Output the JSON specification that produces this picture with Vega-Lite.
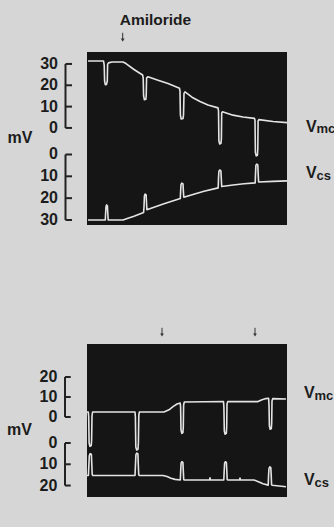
{
  "$schema": "https://vega.github.io/schema/vega-lite/v6.json",
  "autosize": {"type": "none"},
  "padding": {"left": 87, "top": 52, "right": 47, "bottom": 475},
  "background": "#d6d6d6",
  "bounds": "flush",
  "spacing": 119,
  "config": {
    "view": {"fill": "#151515", "stroke": null},
    "text": {"font": "Liberation Sans", "color": "#1c1c1c"}
  },
  "datasets": {
    "top_vmc": [
      {"t":0,"v":31.4},{"t":15.5,"v":31.4},{"t":16.2,"v":29.5},{"t":16.6,"v":22},{"t":17.3,"v":20.3},{"t":18.5,"v":20.4},{"t":19.3,"v":22},{"t":19.6,"v":29.8},{"t":20.5,"v":30.5},{"t":24,"v":30.9},{"t":35,"v":30.9},{"t":38,"v":30.2},{"t":46,"v":27.4},{"t":54.6,"v":24.8},
      {"t":55.2,"v":23.5},{"t":55.6,"v":15},{"t":56.4,"v":13.2},{"t":57.8,"v":13.4},{"t":58.2,"v":15},{"t":58.6,"v":23.5},{"t":60,"v":24.0},{"t":70,"v":22.4},{"t":80,"v":20.8},{"t":91.5,"v":18.6},
      {"t":92,"v":17.2},{"t":92.4,"v":6},{"t":93.2,"v":4.2},{"t":95,"v":4.4},{"t":95.5,"v":6},{"t":96,"v":16.2},{"t":97,"v":16.9},{"t":104,"v":14.4},{"t":112,"v":12.4},{"t":120,"v":10.8},{"t":130,"v":9.4},
      {"t":130.5,"v":8},{"t":130.9,"v":-6},{"t":131.7,"v":-7.5},{"t":133,"v":-7.2},{"t":133.4,"v":-5},{"t":133.7,"v":7},{"t":134.5,"v":7.6},{"t":145,"v":6.0},{"t":155,"v":5.1},{"t":166.5,"v":4.5},
      {"t":167,"v":3.5},{"t":167.4,"v":-11.5},{"t":168.2,"v":-13.1},{"t":169.4,"v":-12.8},{"t":169.8,"v":-10},{"t":170.1,"v":3.4},{"t":171,"v":3.9},{"t":185,"v":3.0},{"t":199,"v":2.5}
    ],
    "top_vcs": [
      {"t":0,"c":30},{"t":17.3,"c":30},{"t":17.6,"c":27},{"t":18,"c":24},{"t":18.6,"c":23.1},{"t":19.4,"c":23.5},{"t":19.8,"c":27},{"t":20.2,"c":30},{"t":35,"c":30},{"t":40,"c":29.2},{"t":46,"c":28.3},{"t":55.6,"c":26.6},
      {"t":56,"c":24},{"t":56.4,"c":19},{"t":57.1,"c":18.1},{"t":58.1,"c":18.5},{"t":58.5,"c":22},{"t":58.9,"c":25.3},{"t":66,"c":24.2},{"t":76,"c":22.6},{"t":92.3,"c":20.2},
      {"t":92.6,"c":17},{"t":93,"c":13.8},{"t":93.8,"c":13.1},{"t":95,"c":13.5},{"t":95.4,"c":17},{"t":95.8,"c":19.6},{"t":105,"c":18.3},{"t":116,"c":16.8},{"t":130.2,"c":15.3},
      {"t":130.5,"c":11},{"t":130.9,"c":7.8},{"t":131.7,"c":7.1},{"t":132.9,"c":7.5},{"t":133.3,"c":11},{"t":133.7,"c":14.7},{"t":145,"c":14.0},{"t":156,"c":13.4},{"t":167.2,"c":13.0},
      {"t":167.5,"c":9},{"t":167.9,"c":5},{"t":168.7,"c":4.4},{"t":169.8,"c":4.8},{"t":170.2,"c":9},{"t":170.6,"c":12.6},{"t":185,"c":12.3},{"t":199,"c":12.1}
    ],
    "bot_vmc": [
      {"t":0,"v":2.5},{"t":3.3,"v":2.5},{"t":3.7,"v":0},{"t":4.1,"v":-13},{"t":4.9,"v":-14.7},{"t":6.2,"v":-14.3},{"t":6.6,"v":-12},{"t":7,"v":0.5},{"t":7.6,"v":2.5},{"t":50,"v":2.5},{"t":50.4,"v":0},{"t":50.8,"v":-15},{"t":51.7,"v":-16.5},{"t":53,"v":-16.1},{"t":53.4,"v":-13},{"t":53.8,"v":0.8},{"t":54.4,"v":2.5},{"t":79,"v":2.5},{"t":84,"v":3.6},{"t":88,"v":5.2},{"t":92,"v":6.5},{"t":95.2,"v":7},
      {"t":95.6,"v":5},{"t":96,"v":-6.5},{"t":96.8,"v":-8.2},{"t":97.9,"v":-7.8},{"t":98.3,"v":-5},{"t":98.6,"v":6},{"t":99.3,"v":7.5},{"t":120,"v":7.6},{"t":138.5,"v":7.7},
      {"t":138.9,"v":5},{"t":139.3,"v":-7},{"t":140.1,"v":-8.6},{"t":141.3,"v":-8.2},{"t":141.7,"v":-5},{"t":142,"v":6.5},{"t":142.7,"v":7.7},{"t":173,"v":7.7},{"t":177,"v":8.6},{"t":181,"v":9.2},{"t":183.6,"v":9.35},
      {"t":184,"v":6},{"t":184.4,"v":-4.5},{"t":185.2,"v":-6.1},{"t":186.3,"v":-5.8},{"t":186.7,"v":-3},{"t":187,"v":8},{"t":187.7,"v":9.2},{"t":201,"v":9}
    ],
    "bot_vcs": [
      {"t":0,"c":15.3},{"t":3.4,"c":15.3},{"t":3.8,"c":11},{"t":4.3,"c":6},{"t":5.2,"c":5},{"t":6.4,"c":5.4},{"t":6.8,"c":10},{"t":7.2,"c":14.8},{"t":7.8,"c":15.3},{"t":50,"c":15.3},{"t":50.4,"c":11},{"t":50.9,"c":5.5},{"t":51.8,"c":4.7},{"t":52.9,"c":5.1},{"t":53.3,"c":10},{"t":53.7,"c":14.8},{"t":54.3,"c":15.3},{"t":78,"c":15.3},{"t":82,"c":15.8},{"t":86,"c":16.6},{"t":90,"c":17.1},{"t":95.3,"c":17.4},
      {"t":95.7,"c":13},{"t":96.1,"c":9.5},{"t":96.9,"c":8.8},{"t":97.9,"c":9.1},{"t":98.3,"c":13},{"t":98.7,"c":17.2},{"t":99.4,"c":17.4},{"t":124.6,"c":17.4},{"t":125,"c":16.4},{"t":125.4,"c":17.4},{"t":138.8,"c":17.4},{"t":139.2,"c":13},{"t":139.6,"c":9.5},{"t":140.4,"c":8.8},{"t":141.4,"c":9.2},{"t":141.8,"c":13},{"t":142.2,"c":17.2},{"t":142.9,"c":17.4},{"t":154.6,"c":17.4},{"t":155,"c":16.5},{"t":155.4,"c":17.4},{"t":169,"c":17.4},{"t":174,"c":18.3},{"t":178,"c":19.2},{"t":183.2,"c":19.8},
      {"t":183.6,"c":15},{"t":184,"c":12},{"t":184.8,"c":11.2},{"t":185.8,"c":11.6},{"t":186.2,"c":15},{"t":186.6,"c":19.6},{"t":187.3,"c":19.9},{"t":201,"c":20.6}
    ],
    "top_events": [{"t": 34.7, "event": "Amiloride"}],
    "bot_events": [{"t": 77, "event": ""}, {"t": 170, "event": ""}],
    "ticks30": [{"v": 0}, {"v": 10}, {"v": 20}, {"v": 30}],
    "ticks20": [{"v": 0}, {"v": 10}, {"v": 20}],
    "unit": [{"unit": "mV"}],
    "lab_mc": [{"main": "V", "sub": "mc"}],
    "lab_cs": [{"main": "V", "sub": "cs"}]
  },
  "vconcat": [
    {
      "width": 200,
      "height": 173,
      "resolve": {"scale": {"y": "independent"}},
      "layer": [
        {
          "layer": [
            {
              "data": {"name": "top_vmc"},
              "mark": {"type": "line", "color": "#e4e4e4", "strokeWidth": 1.6, "strokeJoin": "round", "clip": true},
              "encoding": {
                "x": {"field": "t", "type": "quantitative", "scale": {"domain": [-1, 199], "nice": false, "zero": false}, "axis": null},
                "y": {"field": "v", "type": "quantitative", "scale": {"domain": [-45.5, 35.6], "nice": false, "zero": false}, "axis": null}
              }
            },
            {
              "data": {"name": "ticks30"},
              "mark": {"type": "rule", "color": "#222222", "strokeWidth": 2},
              "encoding": {
                "x": {"datum": -22.5, "type": "quantitative", "axis": null},
                "x2": {"datum": -16},
                "y": {"field": "v", "type": "quantitative", "axis": null}
              }
            },
            {
              "data": {"name": "ticks30"},
              "mark": {"type": "rule", "color": "#222222", "strokeWidth": 2},
              "encoding": {
                "x": {"datum": -22.5, "type": "quantitative", "axis": null},
                "y": {"aggregate": "min", "field": "v", "type": "quantitative", "axis": null},
                "y2": {"aggregate": "max", "field": "v"}
              }
            },
            {
              "data": {"name": "ticks30"},
              "mark": {"type": "text", "fontSize": 16, "fontWeight": "bold", "baseline": "middle", "align": "right"},
              "encoding": {
                "x": {"datum": -30, "type": "quantitative", "axis": null},
                "y": {"field": "v", "type": "quantitative", "axis": null},
                "text": {"field": "v", "type": "quantitative"}
              }
            },
            {
              "data": {"name": "unit"},
              "mark": {"type": "text", "fontSize": 16, "fontWeight": "bold", "baseline": "middle", "align": "center"},
              "encoding": {
                "x": {"datum": -68, "type": "quantitative", "axis": null},
                "y": {"datum": -4.7, "type": "quantitative", "axis": null},
                "text": {"field": "unit"}
              }
            },
            {
              "data": {"name": "top_events"},
              "mark": {"type": "rule", "color": "#333333", "strokeWidth": 1},
              "encoding": {
                "x": {"field": "t", "type": "quantitative", "axis": null},
                "y": {"datum": 44.6, "type": "quantitative", "axis": null},
                "y2": {"datum": 41.5}
              }
            },
            {
              "data": {"name": "top_events"},
              "mark": {"type": "point", "shape": "triangle-down", "filled": true, "size": 14, "color": "#333333", "opacity": 1},
              "encoding": {
                "x": {"field": "t", "type": "quantitative", "axis": null},
                "y": {"datum": 41.2, "type": "quantitative", "axis": null}
              }
            },
            {
              "data": {"name": "top_events"},
              "mark": {"type": "text", "fontSize": 15.5, "fontWeight": "bold", "baseline": "alphabetic", "align": "left", "dx": -3},
              "encoding": {
                "x": {"field": "t", "type": "quantitative", "axis": null},
                "y": {"datum": 48.3, "type": "quantitative", "axis": null},
                "text": {"field": "event"}
              }
            },
            {
              "data": {"name": "lab_mc"},
              "mark": {"type": "text", "fontSize": 16, "fontWeight": "bold", "baseline": "alphabetic", "align": "left"},
              "encoding": {
                "x": {"datum": 218, "type": "quantitative", "axis": null},
                "y": {"datum": -1.7, "type": "quantitative", "axis": null},
                "text": {"field": "main"}
              }
            },
            {
              "data": {"name": "lab_mc"},
              "mark": {"type": "text", "fontSize": 13, "fontWeight": "bold", "baseline": "alphabetic", "align": "left", "dx": 10.5, "dy": 1.5},
              "encoding": {
                "x": {"datum": 218, "type": "quantitative", "axis": null},
                "y": {"datum": -1.7, "type": "quantitative", "axis": null},
                "text": {"field": "sub"}
              }
            }
          ]
        },
        {
          "layer": [
            {
              "data": {"name": "top_vcs"},
              "mark": {"type": "line", "color": "#e4e4e4", "strokeWidth": 1.6, "strokeJoin": "round", "clip": true},
              "encoding": {
                "x": {"field": "t", "type": "quantitative", "axis": null},
                "y": {"field": "c", "type": "quantitative", "scale": {"domain": [-46.95, 32.3], "reverse": true, "nice": false, "zero": false}, "axis": null}
              }
            },
            {
              "data": {"name": "ticks30"},
              "mark": {"type": "rule", "color": "#222222", "strokeWidth": 2},
              "encoding": {
                "x": {"datum": -22.5, "type": "quantitative", "axis": null},
                "x2": {"datum": -16},
                "y": {"field": "v", "type": "quantitative", "axis": null}
              }
            },
            {
              "data": {"name": "ticks30"},
              "mark": {"type": "rule", "color": "#222222", "strokeWidth": 2},
              "encoding": {
                "x": {"datum": -22.5, "type": "quantitative", "axis": null},
                "y": {"aggregate": "min", "field": "v", "type": "quantitative", "axis": null},
                "y2": {"aggregate": "max", "field": "v"}
              }
            },
            {
              "data": {"name": "ticks30"},
              "mark": {"type": "text", "fontSize": 16, "fontWeight": "bold", "baseline": "middle", "align": "right"},
              "encoding": {
                "x": {"datum": -30, "type": "quantitative", "axis": null},
                "y": {"field": "v", "type": "quantitative", "axis": null},
                "text": {"field": "v", "type": "quantitative"}
              }
            },
            {
              "data": {"name": "lab_cs"},
              "mark": {"type": "text", "fontSize": 16, "fontWeight": "bold", "baseline": "alphabetic", "align": "left"},
              "encoding": {
                "x": {"datum": 218, "type": "quantitative", "axis": null},
                "y": {"datum": 10.9, "type": "quantitative", "axis": null},
                "text": {"field": "main"}
              }
            },
            {
              "data": {"name": "lab_cs"},
              "mark": {"type": "text", "fontSize": 13, "fontWeight": "bold", "baseline": "alphabetic", "align": "left", "dx": 10.5, "dy": 2},
              "encoding": {
                "x": {"datum": 218, "type": "quantitative", "axis": null},
                "y": {"datum": 10.9, "type": "quantitative", "axis": null},
                "text": {"field": "sub"}
              }
            }
          ]
        }
      ]
    },
    {
      "width": 200,
      "height": 153,
      "resolve": {"scale": {"y": "independent"}},
      "layer": [
        {
          "layer": [
            {
              "data": {"name": "bot_vmc"},
              "mark": {"type": "line", "color": "#e4e4e4", "strokeWidth": 1.6, "strokeJoin": "round", "clip": true},
              "encoding": {
                "x": {"field": "t", "type": "quantitative", "scale": {"domain": [2, 202], "nice": false, "zero": false}, "axis": null},
                "y": {"field": "v", "type": "quantitative", "scale": {"domain": [-40, 36.5], "nice": false, "zero": false}, "axis": null}
              }
            },
            {
              "data": {"name": "ticks20"},
              "mark": {"type": "rule", "color": "#222222", "strokeWidth": 2},
              "encoding": {
                "x": {"datum": -20, "type": "quantitative", "axis": null},
                "x2": {"datum": -14.3},
                "y": {"field": "v", "type": "quantitative", "axis": null}
              }
            },
            {
              "data": {"name": "ticks20"},
              "mark": {"type": "rule", "color": "#222222", "strokeWidth": 2},
              "encoding": {
                "x": {"datum": -20, "type": "quantitative", "axis": null},
                "y": {"aggregate": "min", "field": "v", "type": "quantitative", "axis": null},
                "y2": {"aggregate": "max", "field": "v"}
              }
            },
            {
              "data": {"name": "ticks20"},
              "mark": {"type": "text", "fontSize": 16, "fontWeight": "bold", "baseline": "middle", "align": "right"},
              "encoding": {
                "x": {"datum": -27.7, "type": "quantitative", "axis": null},
                "y": {"field": "v", "type": "quantitative", "axis": null},
                "text": {"field": "v", "type": "quantitative"}
              }
            },
            {
              "data": {"name": "unit"},
              "mark": {"type": "text", "fontSize": 16, "fontWeight": "bold", "baseline": "middle", "align": "center"},
              "encoding": {
                "x": {"datum": -65.5, "type": "quantitative", "axis": null},
                "y": {"datum": -6.25, "type": "quantitative", "axis": null},
                "text": {"field": "unit"}
              }
            },
            {
              "data": {"name": "bot_events"},
              "mark": {"type": "rule", "color": "#333333", "strokeWidth": 1},
              "encoding": {
                "x": {"field": "t", "type": "quantitative", "axis": null},
                "y": {"datum": 44.6, "type": "quantitative", "axis": null},
                "y2": {"datum": 41.3}
              }
            },
            {
              "data": {"name": "bot_events"},
              "mark": {"type": "point", "shape": "triangle-down", "filled": true, "size": 14, "color": "#333333", "opacity": 1},
              "encoding": {
                "x": {"field": "t", "type": "quantitative", "axis": null},
                "y": {"datum": 41.0, "type": "quantitative", "axis": null}
              }
            },
            {
              "data": {"name": "lab_mc"},
              "mark": {"type": "text", "fontSize": 16, "fontWeight": "bold", "baseline": "alphabetic", "align": "left"},
              "encoding": {
                "x": {"datum": 219, "type": "quantitative", "axis": null},
                "y": {"datum": 9.35, "type": "quantitative", "axis": null},
                "text": {"field": "main"}
              }
            },
            {
              "data": {"name": "lab_mc"},
              "mark": {"type": "text", "fontSize": 13, "fontWeight": "bold", "baseline": "alphabetic", "align": "left", "dx": 10.5, "dy": 1.5},
              "encoding": {
                "x": {"datum": 219, "type": "quantitative", "axis": null},
                "y": {"datum": 9.35, "type": "quantitative", "axis": null},
                "text": {"field": "sub"}
              }
            }
          ]
        },
        {
          "layer": [
            {
              "data": {"name": "bot_vcs"},
              "mark": {"type": "line", "color": "#e4e4e4", "strokeWidth": 1.6, "strokeJoin": "round", "clip": true},
              "encoding": {
                "x": {"field": "t", "type": "quantitative", "axis": null},
                "y": {"field": "c", "type": "quantitative", "scale": {"domain": [-46.6, 25.4], "reverse": true, "nice": false, "zero": false}, "axis": null}
              }
            },
            {
              "data": {"name": "ticks20"},
              "mark": {"type": "rule", "color": "#222222", "strokeWidth": 2},
              "encoding": {
                "x": {"datum": -20, "type": "quantitative", "axis": null},
                "x2": {"datum": -14.3},
                "y": {"field": "v", "type": "quantitative", "axis": null}
              }
            },
            {
              "data": {"name": "ticks20"},
              "mark": {"type": "rule", "color": "#222222", "strokeWidth": 2},
              "encoding": {
                "x": {"datum": -20, "type": "quantitative", "axis": null},
                "y": {"aggregate": "min", "field": "v", "type": "quantitative", "axis": null},
                "y2": {"aggregate": "max", "field": "v"}
              }
            },
            {
              "data": {"name": "ticks20"},
              "mark": {"type": "text", "fontSize": 16, "fontWeight": "bold", "baseline": "middle", "align": "right"},
              "encoding": {
                "x": {"datum": -27.7, "type": "quantitative", "axis": null},
                "y": {"field": "v", "type": "quantitative", "axis": null},
                "text": {"field": "v", "type": "quantitative"}
              }
            },
            {
              "data": {"name": "lab_cs"},
              "mark": {"type": "text", "fontSize": 16, "fontWeight": "bold", "baseline": "alphabetic", "align": "left"},
              "encoding": {
                "x": {"datum": 219, "type": "quantitative", "axis": null},
                "y": {"datum": 19.8, "type": "quantitative", "axis": null},
                "text": {"field": "main"}
              }
            },
            {
              "data": {"name": "lab_cs"},
              "mark": {"type": "text", "fontSize": 13, "fontWeight": "bold", "baseline": "alphabetic", "align": "left", "dx": 10.5, "dy": 2},
              "encoding": {
                "x": {"datum": 219, "type": "quantitative", "axis": null},
                "y": {"datum": 19.8, "type": "quantitative", "axis": null},
                "text": {"field": "sub"}
              }
            }
          ]
        }
      ]
    }
  ]
}
